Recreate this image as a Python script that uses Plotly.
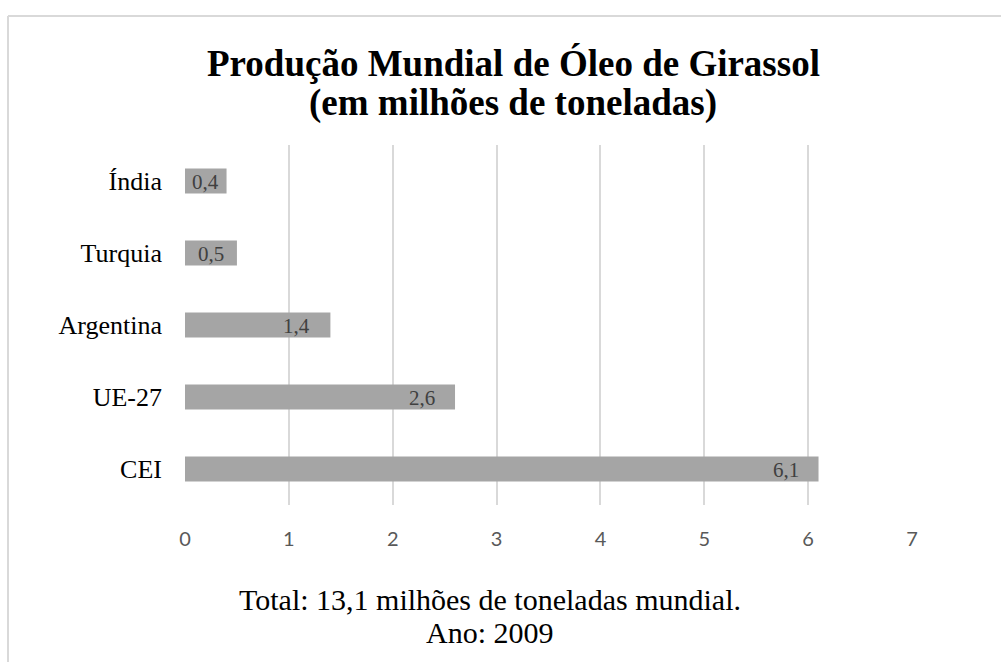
import plotly.graph_objects as go

# Sunflower oil production, 2009 (million tonnes)
paises = ["CEI", "UE-27", "Argentina", "Turquia", "Índia"]
producao = [6.1, 2.6, 1.4, 0.5, 0.4]
ticks_x = [0, 1, 2, 3, 4, 5, 6, 7]

titulo = ["Produção Mundial de Óleo de Girassol", "(em milhões de toneladas)"]
rodape = ["Total: 13,1 milhões de toneladas mundial.", "Ano: 2009"]

SERIF = "Liberation Serif, Times New Roman, serif"

# plot area in pixels
W, H = 1001, 662
L, R, T, B = 185, 89, 145, 157
pw, ph = W - L - R, H - T - B


def px_x(p):
    return (p - L) / pw


def px_y(p):
    return (H - B - p) / ph


fig = go.Figure(
    go.Bar(
        x=producao,
        y=paises,
        orientation="h",
        width=0.35,
        marker=dict(color="#A5A5A5", line=dict(width=0)),
        hoverinfo="skip",
    )
)

# value labels at the inner end of each bar
for v, c in zip(producao, paises):
    bar_px = v * pw / 7
    shift = -min(18, max(3, (bar_px - 30) / 2))
    fig.add_annotation(
        x=v, y=c, xref="x", yref="y",
        text=f"{v:.1f}".replace(".", ","),
        showarrow=False, xanchor="right", xshift=shift, yshift=-1,
        font=dict(family=SERIF, size=21, color="#404040"),
    )

# title lines
for linha, yc in zip(titulo, [64, 103]):
    fig.add_annotation(
        x=px_x(513), y=px_y(yc), xref="paper", yref="paper",
        text=f"<b>{linha}</b>", showarrow=False, xanchor="center", yanchor="middle",
        font=dict(family=SERIF, size=37, color="#000000"),
    )

# footnote lines
for linha, yc in zip(rodape, [599, 632]):
    fig.add_annotation(
        x=px_x(490), y=px_y(yc), xref="paper", yref="paper",
        text=linha, showarrow=False, xanchor="center", yanchor="middle",
        font=dict(family=SERIF, size=30, color="#000000"),
    )

# chart-area frame (top and left edges)
frame = dict(color="#D9D9D9", width=2)
fig.add_shape(type="line", xref="paper", yref="paper",
              x0=px_x(8), x1=px_x(1010), y0=px_y(16), y1=px_y(16), line=frame)
fig.add_shape(type="line", xref="paper", yref="paper",
              x0=px_x(8), x1=px_x(8), y0=px_y(16), y1=px_y(670), line=frame)

fig.update_layout(
    width=W, height=H,
    margin=dict(l=L, r=R, t=T, b=B),
    paper_bgcolor="white", plot_bgcolor="white",
    showlegend=False,
    xaxis=dict(
        range=[0, 7], tickvals=ticks_x, showgrid=True,
        gridcolor="#D9D9D9", gridwidth=1.5, zeroline=False,
        showline=False, ticks="", ticklabelstandoff=20,
        tickfont=dict(family="Lato, Open Sans, sans-serif", size=20, color="#595959"),
        fixedrange=True,
    ),
    yaxis=dict(
        categoryorder="array", categoryarray=paises,
        showgrid=False, zeroline=False, showline=False, ticks="",
        ticklabelstandoff=22,
        tickfont=dict(family=SERIF, size=26, color="#000000"),
        fixedrange=True,
    ),
)

fig.write_html("out.html")
